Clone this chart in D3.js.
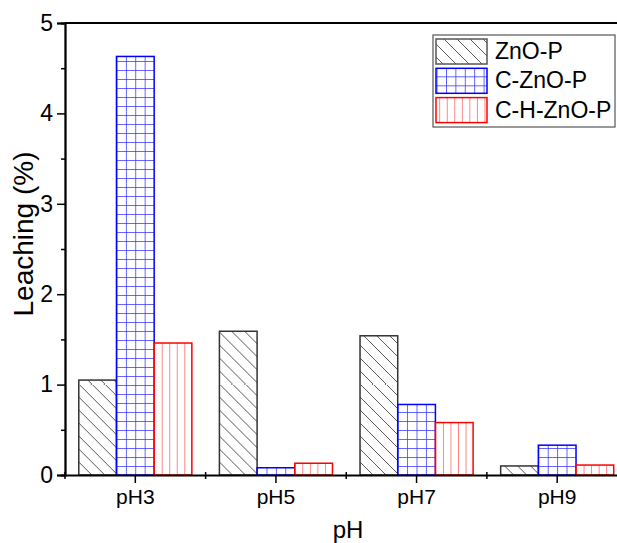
<!DOCTYPE html>
<html>
<head>
<meta charset="utf-8">
<script src="https://cdn.jsdelivr.net/npm/d3@7"></script>
<style>
    body { margin: 0; background: #fff; }
    text { font-family: Arial, "Liberation Sans", sans-serif; }
</style>
</head>
<body>
<div id="chart"></div>
<script>
// data
var categories = ["pH3", "pH5", "pH7", "pH9"];
var seriesNames = ["ZnO-P", "C-ZnO-P", "C-H-ZnO-P"];
var znoP = [1.05, 1.59, 1.54, 0.10];
var cZnoP = [4.63, 0.08, 0.78, 0.33];
var chZnoP = [1.46, 0.13, 0.58, 0.11];
var yTicks = [0, 1, 2, 3, 4, 5];

var seriesValues = [znoP, cZnoP, chZnoP];
var colors = ["#333", "#0000ff", "#ff0000"];

var margin = { top: 23, left: 65 };
var width = 562.5, height = 452;

var svg = d3.select("#chart").append("svg")
    .attr("width", 617)
    .attr("height", 543);

var defs = svg.append("defs");
var g = svg.append("g")
    .attr("transform", "translate(" + margin.left + "," + margin.top + ")");

var x0 = d3.scaleBand()
    .domain(categories)
    .range([0, width])
    .paddingInner(0.196)
    .paddingOuter(0.098);
var x1 = d3.scaleBand()
    .domain(seriesNames)
    .range([0, x0.bandwidth()]);
var y = d3.scaleLinear()
    .domain([0, 5])
    .range([height, 0]);

// hatch patterns, one per bar so the lines start at the bar edge
function makePattern(id, s, bx, by) {
    var p;
    if (s == 0) {
        p = defs.append("pattern").attr("id", id)
            .attr("patternUnits", "userSpaceOnUse")
            .attr("x", bx).attr("y", by)
            .attr("width", 13).attr("height", 13);
        p.append("rect").attr("width", 13).attr("height", 13).attr("fill", "#fff");
        p.append("path").attr("d", "M-1,-1 L14,14 M-7,6 L7,20 M6,-7 L20,7")
            .attr("stroke", "#444").attr("stroke-width", 0.9);
    } else if (s == 1) {
        p = defs.append("pattern").attr("id", id)
            .attr("patternUnits", "userSpaceOnUse")
            .attr("x", bx).attr("y", by)
            .attr("width", 9.4).attr("height", 9);
        p.append("rect").attr("width", 9.4).attr("height", 9).attr("fill", "#fff");
        p.append("path").attr("d", "M0,0 L0,9 M0,0 L9.4,0")
            .attr("stroke", "#3333ff").attr("stroke-width", 1.5);
    } else {
        p = defs.append("pattern").attr("id", id)
            .attr("patternUnits", "userSpaceOnUse")
            .attr("x", bx).attr("y", by)
            .attr("width", 7.54).attr("height", 10);
        p.append("rect").attr("width", 7.54).attr("height", 10).attr("fill", "#fff");
        p.append("path").attr("d", "M0,0 L0,10")
            .attr("stroke", "#ff5555").attr("stroke-width", 1.4);
    }
}

var bars = [];
categories.forEach(function (c, i) {
    seriesNames.forEach(function (s, j) {
        bars.push({ cat: c, series: s, idx: j, value: seriesValues[j][i] });
    });
});

bars.forEach(function (d, k) {
    d.x = x0(d.cat) + x1(d.series);
    d.pid = "pat" + k;
    makePattern(d.pid, d.idx, d.x, height);
});

g.selectAll("rect.bar")
    .data(bars)
    .enter()
    .append("rect")
    .attr("class", "bar")
    .attr("x", function (d) { return d.x; })
    .attr("y", function (d) { return y(d.value); })
    .attr("width", x1.bandwidth())
    .attr("height", function (d) { return height - y(d.value); })
    .attr("fill", function (d) { return "url(#" + d.pid + ")"; })
    .attr("stroke", function (d) { return colors[d.idx]; })
    .attr("stroke-width", 1.5);

// y axis with minor ticks
var yAxis = d3.axisLeft(y).tickValues(yTicks).tickSize(8).tickFormat(d3.format("d"));
var yMinor = d3.axisLeft(y).tickValues(d3.range(0.5, 5, 1)).tickSize(4).tickFormat("");

g.append("g").attr("class", "y-axis").call(yAxis);
g.append("g").attr("class", "y-minor").call(yMinor);

// x axis: ticks at category centres and short ones at boundaries
var xAxis = d3.axisBottom(x0).tickSize(8).tickSizeOuter(0);
g.append("g").attr("class", "x-axis")
    .attr("transform", "translate(0," + height + ")")
    .call(xAxis);

var bounds = d3.range(0, categories.length + 1).map(function (i) { return i * x0.step(); });
g.append("g").selectAll("line")
    .data(bounds)
    .enter()
    .append("line")
    .attr("x1", function (d) { return d; })
    .attr("x2", function (d) { return d; })
    .attr("y1", height - 3)
    .attr("y2", height + 4)
    .attr("stroke", "#000")
    .attr("stroke-width", 1.5);

// top frame line
g.append("line")
    .attr("x1", 0).attr("x2", width)
    .attr("y1", 0).attr("y2", 0)
    .attr("stroke", "#000").attr("stroke-width", 1.8);
g.append("line")
    .attr("x1", width).attr("x2", width)
    .attr("y1", 0).attr("y2", height)
    .attr("stroke", "#000").attr("stroke-width", 1.8);

g.selectAll(".domain").attr("stroke", "#000").attr("stroke-width", 1.8);
g.selectAll(".tick line").attr("stroke", "#000").attr("stroke-width", 1.5);
g.selectAll(".y-axis .tick text")
    .attr("font-size", "23px")
    .attr("fill", "#000")
    .attr("x", -12);
g.selectAll(".x-axis .tick text")
    .attr("font-size", "21px")
    .attr("fill", "#000")
    .attr("y", 14);

// axis titles
svg.append("text")
    .attr("x", 348)
    .attr("y", 538)
    .attr("text-anchor", "middle")
    .attr("font-size", "24px")
    .text("pH");

svg.append("text")
    .attr("transform", "translate(33,234) rotate(-90)")
    .attr("text-anchor", "middle")
    .attr("font-size", "28px")
    .text("Leaching (%)");

// legend
var legend = svg.append("g").attr("transform", "translate(433,35)");
legend.append("rect")
    .attr("width", 182).attr("height", 92)
    .attr("fill", "#fff")
    .attr("stroke", "#555").attr("stroke-width", 1.2);

seriesNames.forEach(function (s, j) {
    var pid = "leg" + j;
    makePattern(pid, j, 436, 35 + 4 + j * 29.3);
    legend.append("rect")
        .attr("x", 3)
        .attr("y", 4 + j * 29.3)
        .attr("width", 51)
        .attr("height", 25)
        .attr("fill", "url(#" + pid + ")")
        .attr("stroke", colors[j] == "#333" ? "#555" : colors[j])
        .attr("stroke-width", 1.5);
    legend.append("text")
        .attr("x", 62)
        .attr("y", 24 + j * 29.3)
        .attr("font-size", "23px")
        .text(s);
});
</script>
</body>
</html>
